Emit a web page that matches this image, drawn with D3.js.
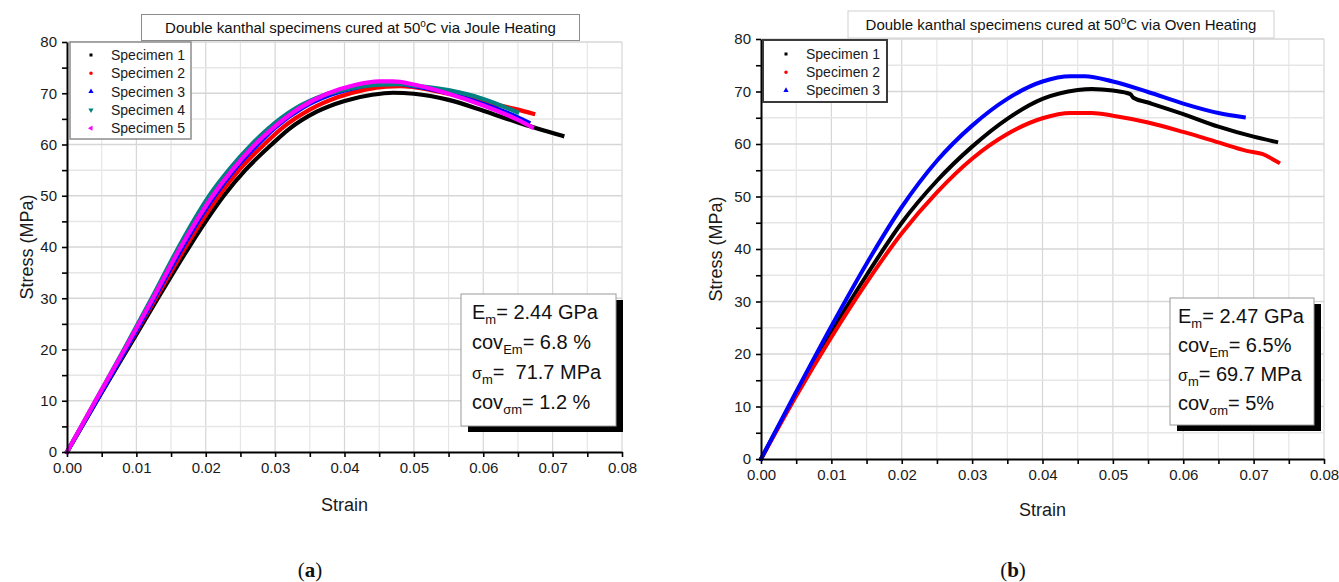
<!DOCTYPE html>
<html>
<head>
<meta charset="utf-8">
<script src="https://cdn.jsdelivr.net/npm/d3@7"></script>
<style>
  body { margin: 0; background: #fff; }
  svg { font-family: "Liberation Sans", Arial, sans-serif; }
  text { white-space: pre; }
</style>
</head>
<body>
<svg id="stage" width="1339" height="582"></svg>
<script>
(function(d3) {
    'use strict';

    // ---- data: [strain, stress (MPa)] ----
    var joule1 = [[0,0],[0.0043,10],[0.0087,20],[0.0131,30],[0.0176,40],[0.02,45],[0.0226,50],[0.0257,55],[0.0295,60],[0.032,63.0],[0.036,66.4],[0.04,68.5],[0.044,69.7],[0.047,70.1],[0.05,69.9],[0.055,68.7],[0.06,66.6],[0.065,64.3],[0.0714,61.7]];
    var joule2 = [[0,0],[0.0042,10],[0.0085,20],[0.0128,30],[0.0171,40],[0.0194,45],[0.0219,50],[0.0248,55],[0.0284,60],[0.031,63.2],[0.035,66.8],[0.039,69.2],[0.043,70.7],[0.046,71.3],[0.048,71.4],[0.05,71.2],[0.055,69.9],[0.06,68.3],[0.065,66.8],[0.0672,66.0]];
    var joule3 = [[0,0],[0.0043,10],[0.0085,20],[0.0126,30],[0.0167,40],[0.0189,45],[0.0213,50],[0.0241,55],[0.0275,60],[0.03,63.3],[0.034,67.2],[0.038,69.7],[0.042,71.2],[0.045,71.8],[0.047,71.9],[0.05,71.4],[0.055,70.0],[0.06,67.9],[0.065,65.3],[0.0665,64.3]];
    var joule4 = [[0,0],[0.0041,10],[0.0082,20],[0.0122,30],[0.0161,40],[0.0182,45],[0.0205,50],[0.0233,55],[0.0266,60],[0.029,63.1],[0.033,67.1],[0.037,69.6],[0.041,71.0],[0.045,71.7],[0.048,71.8],[0.05,71.5],[0.055,70.6],[0.06,68.9],[0.0649,66.3]];
    var joule5 = [[0,0],[0.0041,10],[0.0083,20],[0.0124,30],[0.0164,40],[0.0186,45],[0.021,50],[0.0238,55],[0.0271,60],[0.0295,63.0],[0.0335,67.1],[0.0375,69.9],[0.0415,71.6],[0.045,72.3],[0.047,72.3],[0.05,71.7],[0.055,69.9],[0.06,67.6],[0.065,64.8],[0.067,63.4]];

    var oven1 = [[0,0],[0.005,12.4],[0.01,24.2],[0.015,35.0],[0.02,45.0],[0.025,53.0],[0.03,59.5],[0.035,64.8],[0.04,68.6],[0.045,70.3],[0.047,70.5],[0.05,70.2],[0.0525,69.5],[0.0529,68.8],[0.055,67.9],[0.06,65.7],[0.065,63.3],[0.07,61.4],[0.0732,60.4]];
    var oven2 = [[0,0],[0.005,12.0],[0.01,23.2],[0.015,33.6],[0.02,43.0],[0.025,50.8],[0.03,57.2],[0.035,61.9],[0.04,64.9],[0.044,65.9],[0.047,65.9],[0.05,65.4],[0.055,64.1],[0.06,62.3],[0.065,60.3],[0.069,58.7],[0.0712,58.1],[0.0735,56.5]];
    var oven3 = [[0,0],[0.005,12.8],[0.01,25.3],[0.015,37.2],[0.02,48.0],[0.025,56.8],[0.03,63.5],[0.035,68.6],[0.04,71.9],[0.044,72.9],[0.046,72.9],[0.05,71.9],[0.055,69.9],[0.06,67.7],[0.065,65.9],[0.0686,65.1]];

    var jouleNames = ['Specimen 1', 'Specimen 2', 'Specimen 3', 'Specimen 4', 'Specimen 5'];
    var ovenNames = ['Specimen 1', 'Specimen 2', 'Specimen 3'];

    var strainTicks = [0, 0.01, 0.02, 0.03, 0.04, 0.05, 0.06, 0.07, 0.08];
    var strainMinor = [0.005, 0.015, 0.025, 0.035, 0.045, 0.055, 0.065, 0.075];
    var stressTicks = [0, 10, 20, 30, 40, 50, 60, 70, 80];
    var stressMinor = [5, 15, 25, 35, 45, 55, 65, 75];

    // [main, subscript, rest]
    var jouleStats = [['E', 'm', '= 2.44 GPa'], ['cov', 'Em', '= 6.8 %'], ['\u03c3', 'm', '=  71.7 MPa'], ['cov', '\u03c3m', '= 1.2 %']];
    var ovenStats = [['E', 'm', '= 2.47 GPa'], ['cov', 'Em', '= 6.5%'], ['\u03c3', 'm', '= 69.7 MPa'], ['cov', '\u03c3m', '= 5%']];

    var colors = ['#000000', '#ff0000', '#0000ff', '#008080', '#ff00ff'];
    var symbols = [
        { type: d3.symbolSquare, size: 9, rot: 0 },
        { type: d3.symbolCircle, size: 10, rot: 0 },
        { type: d3.symbolTriangle, size: 12, rot: 0 },
        { type: d3.symbolTriangle, size: 12, rot: 180 },
        { type: d3.symbolTriangle, size: 12, rot: -90 }
    ];

    var svg = d3.select('#stage');

    function drawPanel(p) {
        var x = d3.scaleLinear().domain([0, 0.08]).range([p.left, p.right]);
        var y = d3.scaleLinear().domain([0, 80]).range([p.bottom, p.top]);
        var g = svg.append('g');

        // grid
        g.append('g').selectAll('line')
            .data(strainMinor).enter().append('line')
            .attr('x1', function(d) { return x(d); }).attr('x2', function(d) { return x(d); })
            .attr('y1', p.top).attr('y2', p.bottom)
            .style('stroke', '#e6e6e6').style('stroke-width', 1.2);
        g.append('g').selectAll('line')
            .data(strainTicks.slice(1)).enter().append('line')
            .attr('x1', function(d) { return x(d); }).attr('x2', function(d) { return x(d); })
            .attr('y1', p.top).attr('y2', p.bottom)
            .style('stroke', '#d6d6d6').style('stroke-width', 1.2);
        g.append('g').selectAll('line')
            .data(stressMinor).enter().append('line')
            .attr('y1', function(d) { return y(d); }).attr('y2', function(d) { return y(d); })
            .attr('x1', p.left).attr('x2', p.right)
            .style('stroke', '#e6e6e6').style('stroke-width', 1.5);
        g.append('g').selectAll('line')
            .data(stressTicks.slice(1)).enter().append('line')
            .attr('y1', function(d) { return y(d); }).attr('y2', function(d) { return y(d); })
            .attr('x1', p.left).attr('x2', p.right)
            .style('stroke', '#d6d6d6').style('stroke-width', 1.5);

        // curves
        var line = d3.line()
            .x(function(d) { return x(d[0]); })
            .y(function(d) { return y(d[1]); })
            .curve(d3.curveMonotoneX);
        p.series.forEach(function(s, i) {
            g.append('path')
                .datum(s)
                .attr('d', line)
                .style('fill', 'none')
                .style('stroke', colors[i])
                .style('stroke-width', p.lineWidth)
                .style('stroke-linecap', 'square');
        });

        // axes
        var xMinor = g.append('g').attr('transform', 'translate(0,' + p.bottom + ')')
            .call(d3.axisBottom(x).tickValues(strainMinor).tickSize(5).tickFormat(''));
        var xAxis = g.append('g').attr('transform', 'translate(0,' + p.bottom + ')')
            .call(d3.axisBottom(x).tickValues(strainTicks).tickSize(5).tickSizeOuter(0)
                .tickPadding(5).tickFormat(d3.format('.2f')));
        var yMinor = g.append('g').attr('transform', 'translate(' + p.left + ',0)')
            .call(d3.axisLeft(y).tickValues(stressMinor).tickSize(5).tickFormat(''));
        var yAxis = g.append('g').attr('transform', 'translate(' + p.left + ',0)')
            .call(d3.axisLeft(y).tickValues(stressTicks).tickSize(5).tickSizeOuter(0)
                .tickPadding(5).tickFormat(d3.format('d')));
        [xMinor, yMinor].forEach(function(a) { a.select('.domain').remove(); });
        [xMinor, xAxis, yMinor, yAxis].forEach(function(a) {
            a.selectAll('line').style('stroke', '#000').style('stroke-width', 1.6);
            a.select('.domain').style('stroke', '#000').style('stroke-width', 2);
            a.selectAll('text').style('font-size', '15px').style('fill', '#1a1a1a')
                .style('font-family', '"Liberation Sans", Arial, sans-serif');
        });

        // axis titles
        svg.append('text')
            .attr('transform', 'translate(' + p.ylabelX + ',' + ((p.top + p.bottom) / 2) + ') rotate(-90)')
            .attr('text-anchor', 'middle').attr('dy', '0.35em')
            .style('font-size', '18px').style('fill', '#1a1a1a')
            .text('Stress (MPa)');
        svg.append('text')
            .attr('x', (p.left + p.right) / 2).attr('y', p.xlabelY)
            .attr('text-anchor', 'middle').attr('dy', '0.35em')
            .style('font-size', '18px').style('fill', '#1a1a1a')
            .text('Strain');

        // title box
        var tb = p.titleBox;
        svg.append('rect')
            .attr('x', tb.x).attr('y', tb.y).attr('width', tb.w).attr('height', tb.h)
            .style('fill', '#fff').style('stroke', tb.stroke).style('stroke-width', 1);
        var tt = svg.append('text')
            .attr('x', tb.x + tb.w / 2).attr('y', tb.y + tb.h / 2 + 5)
            .attr('text-anchor', 'middle')
            .style('font-size', '15px').style('fill', '#111');
        tt.append('tspan').text('Double kanthal specimens cured at 50');
        tt.append('tspan').attr('dy', -6).style('font-size', '10px').text('o');
        tt.append('tspan').attr('dy', 6).text('C via ' + p.method);

        // legend
        var lg = p.legend;
        svg.append('rect')
            .attr('x', lg.x).attr('y', lg.y).attr('width', lg.w).attr('height', lg.h)
            .style('fill', '#fff').style('stroke', lg.stroke).style('stroke-width', lg.strokeWidth);
        p.names.forEach(function(name, i) {
            var cy = lg.row0 + i * lg.step;
            svg.append('path')
                .attr('d', d3.symbol().type(symbols[i].type).size(symbols[i].size)())
                .attr('transform', 'translate(' + lg.markerX + ',' + cy + ') rotate(' + symbols[i].rot + ')')
                .style('fill', colors[i]);
            svg.append('text')
                .attr('x', lg.textX).attr('y', cy + 5)
                .style('font-size', '14px').style('fill', '#1a1a1a')
                .text(name);
        });

        // stats box with shadow
        var ib = p.info;
        svg.append('rect')
            .attr('x', ib.x + 7).attr('y', ib.y + 6).attr('width', ib.w).attr('height', ib.h)
            .style('fill', '#000');
        svg.append('rect')
            .attr('x', ib.x).attr('y', ib.y).attr('width', ib.w).attr('height', ib.h)
            .style('fill', '#fff').style('stroke', '#9a9a9a').style('stroke-width', 1);
        p.stats.forEach(function(st, i) {
            var t = svg.append('text')
                .attr('x', ib.textX).attr('y', ib.line0 + i * ib.step)
                .style('font-size', '20px').style('fill', '#111');
            var main = t.append('tspan').text(st[0]);
            if (st[0] === '\u03c3') { main.style('font-size', '16px'); }
            t.append('tspan').attr('dy', 5).style('font-size', '13px').text(st[1]);
            t.append('tspan').attr('dy', -5).text(st[2]);
        });

        // caption
        var cap = svg.append('text')
            .attr('x', p.captionX).attr('y', 577)
            .attr('text-anchor', 'middle')
            .style('font-family', '"Liberation Serif", "DejaVu Serif", serif')
            .style('font-size', '21px').style('fill', '#111');
        cap.append('tspan').text('(');
        cap.append('tspan').style('font-weight', 'bold').text(p.captionLetter);
        cap.append('tspan').text(')');
    }

    drawPanel({
        left: 67, right: 622, top: 42, bottom: 452,
        series: [joule1, joule2, joule3, joule4, joule5],
        names: jouleNames,
        stats: jouleStats,
        method: 'Joule Heating',
        lineWidth: 4.2,
        ylabelX: 27, xlabelY: 505,
        titleBox: { x: 141.5, y: 14.5, w: 438, h: 26, stroke: '#8c8c8c' },
        legend: { x: 70, y: 42, w: 121, h: 97, stroke: '#8c8c8c', strokeWidth: 1.5,
            row0: 55, step: 18.3, markerX: 91, textX: 111 },
        info: { x: 461, y: 294, w: 155, h: 132, textX: 472, line0: 319, step: 30 },
        captionX: 310, captionLetter: 'a'
    });

    drawPanel({
        left: 761, right: 1324, top: 39, bottom: 459,
        series: [oven1, oven2, oven3],
        names: ovenNames,
        stats: ovenStats,
        method: 'Oven Heating',
        lineWidth: 4,
        ylabelX: 716, xlabelY: 510,
        titleBox: { x: 848, y: 11, w: 426, h: 27, stroke: '#d0d0d0' },
        legend: { x: 763, y: 40, w: 124, h: 62, stroke: '#3a3a3a', strokeWidth: 2,
            row0: 54, step: 18.2, markerX: 786, textX: 806 },
        info: { x: 1170, y: 298, w: 144, h: 127, textX: 1178, line0: 323, step: 29 },
        captionX: 1013, captionLetter: 'b'
    });

})(window.d3);
</script>
</body>
</html>
